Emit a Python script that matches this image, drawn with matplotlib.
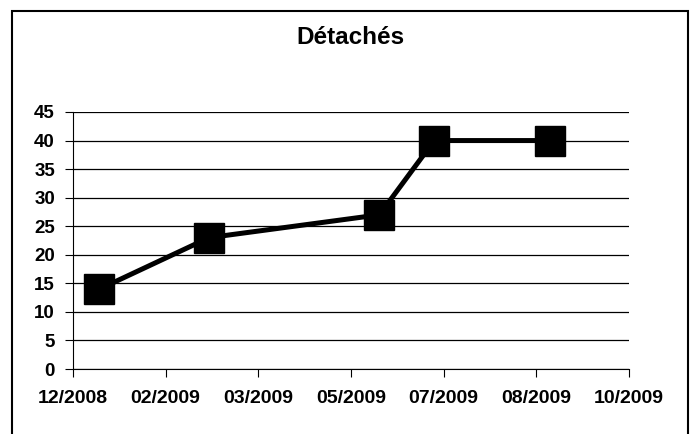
import matplotlib
matplotlib.use("Agg")
import matplotlib.pyplot as plt
import matplotlib.dates as mdates
from matplotlib.patches import Rectangle
import datetime as dt

plt.rcParams['font.family'] = ['Liberation Sans', 'DejaVu Sans']

# data
dates = [dt.date(2009, 1, 3), dt.date(2009, 3, 2), dt.date(2009, 5, 31),
         dt.date(2009, 6, 29), dt.date(2009, 8, 29)]
values = [14, 23, 27, 40, 40]
title = "Détachés"

# excel style date axis: 7 ticks, even step
axis_start = dt.date(2008, 12, 20)
step_days = 49
n_ticks = 7
tick_dates = [axis_start + dt.timedelta(days=step_days * k) for k in range(n_ticks)]

fig = plt.figure(figsize=(6.93, 4.34), dpi=100)
ax = fig.add_axes([73 / 693, 1 - 369 / 434, (629 - 73) / 693, (369 - 112) / 434])

ax.plot(dates, values, color='black', lw=3.6, marker='s', ms=21,
        mfc='black', mec='black', zorder=3, clip_on=False)

ax.set_ylim(0, 45)
ax.set_yticks(range(0, 46, 5))
ax.set_xlim(tick_dates[0], tick_dates[-1])
ax.set_xticks(tick_dates)
ax.xaxis.set_major_formatter(mdates.DateFormatter('%m/%Y'))

ax.grid(axis='y', color='black', lw=0.9)
ax.set_axisbelow(True)
for s in ['top', 'right']:
    ax.spines[s].set_visible(False)
ax.spines['left'].set_color('black')
ax.spines['bottom'].set_color('black')
ax.tick_params(axis='x', direction='out', length=6, pad=9, labelsize=14)
ax.tick_params(axis='y', direction='out', length=6, pad=7, labelsize=13.5)
for lab in ax.get_xticklabels() + ax.get_yticklabels():
    lab.set_fontweight('bold')

fig.text(350 / 693, 1 - 38 / 434, title, ha='center', va='center',
         fontsize=17.5, fontweight='bold')

# chart border (bottom edge falls outside the image)
fig.patches.append(Rectangle((12 / 693, -0.1), (688 - 12) / 693, 1.1 - 11 / 434,
                             transform=fig.transFigure, fill=False,
                             edgecolor='black', lw=1.5))

fig.savefig('out.png', dpi=100)
